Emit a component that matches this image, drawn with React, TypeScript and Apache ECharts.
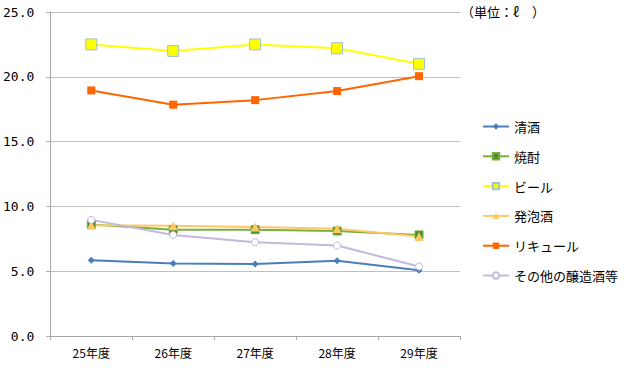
import React, { useEffect, useRef } from "react";
import * as echarts from "echarts";

const categories = ["25年度", "26年度", "27年度", "28年度", "29年度"];
const seriesNames = ["清酒", "焼酎", "ビール", "発泡酒", "リキュール", "その他の醸造酒等"];
const sake = [5.85, 5.6, 5.56, 5.8, 5.08];
const shochu = [8.6, 8.2, 8.2, 8.1, 7.8];
const beer = [22.5, 22.0, 22.5, 22.2, 21.0];
const happoshu = [8.55, 8.5, 8.42, 8.27, 7.67];
const liqueur = [18.95, 17.85, 18.2, 18.9, 20.05];
const otherBrewed = [8.96, 7.8, 7.24, 6.98, 5.36];
const yTicks = [0, 5, 10, 15, 20, 25];

const FONT = "'Noto Sans CJK JP', sans-serif";

export default function App() {
  const ref = useRef<HTMLDivElement>(null);
  useEffect(() => {
    if (!ref.current) return;
    const chart = echarts.init(ref.current, undefined, { renderer: "svg" });
    const mk = (
      name: string,
      data: number[],
      color: string,
      symbol: string,
      symbolSize: number,
      fill: string,
      border: string,
      borderWidth: number
    ) => ({
      name,
      type: "line",
      data,
      symbol,
      symbolSize,
      showAllSymbol: true,
      lineStyle: { color, width: 2 },
      itemStyle: { color: fill, borderColor: border, borderWidth },
      z: 2,
    });
    chart.setOption({
      animation: false,
      backgroundColor: "#ffffff",
      textStyle: { fontFamily: FONT },
      grid: { left: 49, right: 166, top: 12, bottom: 37, containLabel: false },
      legend: {
        orient: "vertical",
        left: 477,
        top: 115,
        itemGap: 16.8,
        itemWidth: 26,
        itemHeight: 8,
        textStyle: { fontSize: 13, color: "#000", fontFamily: FONT },
        data: seriesNames,
      },
      graphic: [
        {
          type: "text",
          left: 461,
          top: 5,
          style: { text: "（単位：ℓ　）", fill: "#000", font: "13px " + FONT },
        },
      ],
      xAxis: {
        type: "category",
        data: categories,
        boundaryGap: true,
        axisLine: { show: true, lineStyle: { color: "#a6a6a6" } },
        axisTick: { show: true, length: 4, lineStyle: { color: "#a6a6a6" } },
        axisLabel: { color: "#000", fontSize: 12, margin: 10, fontFamily: FONT },
        splitLine: { show: false },
      },
      yAxis: {
        type: "value",
        min: yTicks[0],
        max: yTicks[yTicks.length - 1],
        interval: 5,
        axisLine: { show: true, lineStyle: { color: "#a6a6a6" } },
        axisTick: { show: true, length: 4, inside: false, lineStyle: { color: "#a6a6a6" } },
        axisLabel: {
          color: "#000",
          fontSize: 13,
          margin: 16,
          fontFamily: "'DejaVu Sans Mono', monospace",
          formatter: (v: number) => v.toFixed(1),
        },
        splitLine: { show: true, lineStyle: { color: "#bfbfbf" } },
      },
      series: [
        mk(seriesNames[0], sake, "#4a7ebb", "diamond", 7, "#4a7ebb", "#4a7ebb", 0),
        mk(seriesNames[1], shochu, "#77b03f", "rect", 8, "#4e8a2e", "#77b03f", 1),
        mk(seriesNames[2], beer, "#ffff00", "rect", 11, "#ffff00", "#9cc2d6", 1),
        mk(seriesNames[3], happoshu, "#ffc866", "triangle", 9, "#ffc866", "#ffc866", 0),
        mk(seriesNames[4], liqueur, "#ff6600", "rect", 8, "#ff6600", "#ff6600", 0),
        mk(seriesNames[5], otherBrewed, "#c3b9dc", "circle", 7, "#ffffff", "#c3b9dc", 1),
      ],
    });
    return () => chart.dispose();
  }, []);
  return <div ref={ref} style={{ width: 626, height: 373, position: "absolute", left: 0, top: 0 }} />;
}
